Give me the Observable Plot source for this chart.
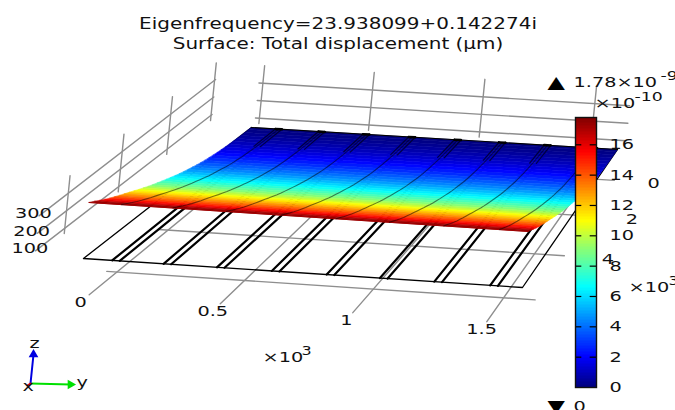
<!DOCTYPE html>
<html>
<head>
<meta charset="utf-8">
<style>
html,body{margin:0;padding:0;background:#fff;width:675px;height:410px;overflow:hidden}
#wrap{position:relative;width:675px;height:410px;overflow:hidden}
#wrap svg{position:absolute;overflow:hidden}
.surface{filter:blur(.6px)}
</style>
<script src="https://cdn.jsdelivr.net/npm/d3@7"></script>
<script src="https://cdn.jsdelivr.net/npm/@observablehq/plot@0.6"></script>
</head>
<body>
<div id="wrap"></div>
<script>
// ---- values ----
const titleLines = ["Eigenfrequency=23.938099+0.142274i", "Surface: Total displacement (µm)"];
const yTicks = [0, 500, 1000, 1500];
const yTickLabels = ["0", "0.5", "1", "1.5"];
const depthTicks = [0, 2, 4, 6];
const depthTickLabels = [0, 2, 4];
const zTicks = [100, 200, 300];
const barTicks = [0, 2, 4, 6, 8, 10, 12, 14, 16];
const railCentres = [-55, 150, 362, 579, 795, 1004, 1216, 1433];
// depth station (µm×10³), surface height above floor, displacement (×10⁻¹⁰)
const stationDepth = [5.52,5.3,5.1,4.9,4.7,4.5,4.3,4.1,3.9,3.7,3.5,3.3,3.1,2.9,2.7,2.5,2.3,2.1,1.9,1.7,1.5,1.3,1.1,.9,.7,.5,.3,.1,-.1,-.3,-.5,-.7,-.9,-1.1,-1.3,-1.5,-1.7,-1.84];
const stationHeight = [320,300,281,263,246,231,216,202,188,174,160,147,134,122,111,100,90,80,70,61,53,46,39,32,26,21,17,13,10,7.4,4.8,3,1.9,1.1,.7,.4,0,0];
const stationValue = [17.8,16.9,16.1,15.4,14.6,13.9,13.2,12.5,11.8,11.2,10.5,9.9,9.3,8.7,8.2,7.6,7.1,6.5,6.1,5.6,5.1,4.6,4.2,3.8,3.4,3.0,2.6,2.3,1.9,1.6,1.3,1.05,.8,.57,.36,.2,.05,0];
const colorStops = [0, 2, 6.6, 8.9, 11, 15.5, 17.8];
const colorRamp = ["#00007f","#0000ff","#00ffff","#7fff7f","#ffff00","#ff0000","#7f0000"];

// ---- camera: floor extents and where the floor's corners land in the window ----
const floorY = [-185, 1543], floorDepth = [5.52, -1.84];
const cam = {nl:[83,258], nr:[522,287], fr:[617,149], fl:[251,127], zScale:.175, zTilt:.1};
const zOffset = 129;              // axis value 0 relative to floor level
const wallY = -222, backDepth = 0;
const gridYRange = [-40, 1620], backYRange = [-18, 1655], wallDepthRange = [-.05, 7], tickDepthRange = [0, 7];
const wallZRange = [70, 400];

const [x0,y0]=cam.nl,[x1,y1]=cam.nr,[x2,y2]=cam.fr,[x3,y3]=cam.fl;
const dx1=x1-x2,dx2=x3-x2,sx=x0-x1+x2-x3,dy1=y1-y2,dy2=y3-y2,sy=y0-y1+y2-y3;
const den=dx1*dy2-dx2*dy1,g=(sx*dy2-dx2*sy)/den,h=(dx1*sy-sx*dy1)/den;
const A=x1-x0+g*x1,B=x3-x0+h*x3,C=x0,D=y1-y0+g*y1,E=y3-y0+h*y3,F=y0;
function project(yv,depth,z=0){
  const s=(yv-floorY[0])/(floorY[1]-floorY[0]), t=(depth-floorDepth[0])/(floorDepth[1]-floorDepth[0]);
  const w=g*s+h*t+1;
  return {px:(A*s+B*t+C)/w+cam.zTilt*cam.zScale*z, py:(D*s+E*t+F)/w-cam.zScale*z};
}
let uid=0;
const path=pts=>{const id=uid++;return pts.map(p=>({id,...project(...p)}));};

// ---- derived geometry ----
const strips=[];
for(let i=stationDepth.length-2;i>=0;i--){
  const v=(stationValue[i]+stationValue[i+1])/2;
  path([[floorY[0],stationDepth[i],stationHeight[i]],[floorY[1],stationDepth[i],stationHeight[i]],
        [floorY[1],stationDepth[i+1],stationHeight[i+1]],[floorY[0],stationDepth[i+1],stationHeight[i+1]]])
    .forEach(p=>strips.push({...p,value:v}));
}
const gridLines=[
  ...depthTicks.flatMap(b=>path([[gridYRange[0],b],[gridYRange[1],b]])),
  ...yTicks.flatMap(v=>path([[v,tickDepthRange[0]],[v,tickDepthRange[1]]])),
  ...zTicks.flatMap(z=>path([[wallY,wallDepthRange[0],z+zOffset],[wallY,wallDepthRange[1],z+zOffset]])),
  ...zTicks.flatMap(z=>path([[backYRange[0],backDepth,z+zOffset],[backYRange[1],backDepth,z+zOffset]])),
  ...depthTicks.flatMap(b=>path([[wallY,b,wallZRange[0]+zOffset],[wallY,b,wallZRange[1]+zOffset]])),
  ...yTicks.flatMap(v=>path([[v,backDepth,wallZRange[0]+zOffset],[v,backDepth,wallZRange[1]+zOffset]]))
];
const floorOutline=path([[floorY[0],floorDepth[1]],[floorY[0],floorDepth[0]],[floorY[1],floorDepth[0]],[floorY[1],floorDepth[1]]]);
const railHalf=15;
const railLines=railCentres.flatMap(c=>[-1,1].flatMap(k=>path([[c+k*railHalf,floorDepth[0]],[c+k*railHalf,floorDepth[1]]])));
const railCurves=railCentres.flatMap(c=>path(stationDepth.map((b,i)=>[c,b,stationHeight[i]])));
const railFarEnds=railCentres.flatMap(c=>[-1,1].flatMap(k=>path([[c+k*railHalf,-.7],[c+k*railHalf,-1.84]])));
const railBlobs=railCentres.flatMap(c=>path([[c-railHalf,-1.84],[c+railHalf,-1.84]]));
const farEdge=path([[floorY[0],floorDepth[1]],[floorY[1],floorDepth[1]]]);
const nearEdge=path([[floorY[0],floorDepth[0],stationHeight[0]],[floorY[1],floorDepth[0],stationHeight[0]]]);
const yLabelRows=yTicks.map((v,i)=>({...project(v,7.3),t:yTickLabels[i]}));
const depthLabelRows=depthTickLabels.map(b=>({...project(1795,b),t:String(b)}));
const zLabelRows=zTicks.map(z=>({...project(wallY,7.15,z+zOffset),t:String(z)}));

const FONT="'DejaVu Sans'", FS=14.5;
const colorScale={type:"linear",domain:colorStops,range:colorRamp,interpolate:"rgb",clamp:true};
const ann=(text,dx,dy,fontSize=FS,fill="#111")=>Plot.text([text],{text:d=>d,frameAnchor:"top-left",dx,dy,fontSize,textAnchor:"start",lineAnchor:"middle",fill});
const lineOpts={x:"px",y:"py",z:"id"};

// triad arrows (window offsets from the triad origin are layout)
const triad=[{axis:"y",c:"#00e000",to:[70,384]},{axis:"z",c:"#0000e0",to:[33,354]},{axis:"x",c:"#e00000",to:[27,385]}];
const triadRows=triad.flatMap(a=>[{id:a.axis,px:30,py:383,c:a.c},{id:a.axis,px:a.to[0],py:a.to[1],c:a.c}]);

const main=Plot.plot({
  width:675,height:410,margin:0,
  x:{domain:[0,675],range:[0,675],axis:null},
  y:{domain:[0,410],range:[0,410],axis:null},
  color:colorScale,
  style:{fontFamily:FONT,background:"#fff"},
  marks:[
    Plot.line(gridLines,{...lineOpts,stroke:"#8e8e8e",strokeWidth:1.4}),
    Plot.line(floorOutline,{...lineOpts,stroke:"#000",strokeWidth:1.3}),
    Plot.line(railLines,{...lineOpts,stroke:"#000",strokeWidth:2.2}),
    Plot.line(strips,{x:"px",y:"py",z:"id",fill:"value",stroke:"value",strokeWidth:.6,curve:"linear-closed",className:"surface"}),
    Plot.line(nearEdge,{...lineOpts,stroke:"#a00000",strokeWidth:1}),
    Plot.line(railCurves,{...lineOpts,stroke:"#000",strokeOpacity:.5,strokeWidth:1.1}),
    Plot.line(railFarEnds,{...lineOpts,stroke:"#000",strokeOpacity:.65,strokeWidth:1.1}),
    Plot.line(farEdge,{...lineOpts,stroke:"#000",strokeWidth:1.1}),
    Plot.line(railBlobs,{...lineOpts,stroke:"#000",strokeWidth:2.5}),
    Plot.text(yLabelRows,{x:"px",y:"py",text:"t",fontSize:FS,fill:"#111"}),
    Plot.text(depthLabelRows,{x:"px",y:"py",text:"t",dy:1,fontSize:FS,fill:"#111"}),
    Plot.text(zLabelRows,{x:"px",y:"py",text:"t",dx:-1,dy:-6,fontSize:FS,fill:"#111"}),
    Plot.text([titleLines[0]],{text:d=>d,frameAnchor:"top",dy:24,lineAnchor:"middle",fontSize:15,fill:"#111"}),
    Plot.text([titleLines[1]],{text:d=>d,frameAnchor:"top",dy:44,lineAnchor:"middle",fontSize:15,fill:"#111"}),
    ann("×10",262,357),ann("3",301,351,12),
    ann("×10",628,287),ann("3",668,281,12),
    ann("▲",547,82,17,"#000"),ann("1.78×10",573,82),ann("-9",660,75,13),
    ann("×10",594,103),ann("-10",634,96,13),
    ann("▼",547,406,17,"#000"),ann("0",573,406),
    Plot.line(triadRows,{x:"px",y:"py",z:"id",stroke:"c",strokeWidth:2}),
    Plot.dot(triad.filter(a=>a.axis!=="x"),{x:a=>a.to[0],y:a=>a.to[1],fill:"c",symbol:"triangle",r:3.6,rotate:a=>a.axis==="y"?90:0}),
    ann("z",29,343),ann("y",76,382),ann("x",22,386)
  ]
});
main.style.left="0";main.style.top="0";

// colour bar
const barBands=d3.range(0,17.8,.1);
const bar=Plot.plot({
  width:102,height:293,marginLeft:2,marginRight:79,marginTop:10,marginBottom:13,
  x:{domain:[0,1],axis:null},
  y:{domain:[0,17.8]},
  color:colorScale,
  style:{fontFamily:FONT,background:"transparent"},
  marks:[
    Plot.rect(barBands,{x1:0,x2:1,y1:d=>d,y2:d=>Math.min(d+.11,17.8),fill:d=>d+.05,shapeRendering:"crispEdges"}),
    Plot.ruleY(barTicks.slice(1),{x1:0,x2:.3,stroke:"#000",strokeWidth:1.2}),
    Plot.ruleY(barTicks.slice(1),{x1:.7,x2:1,stroke:"#000",strokeWidth:1.2}),
    Plot.frame({stroke:"#111",strokeWidth:1.4}),
    Plot.axisY(barTicks,{anchor:"right",tickSize:0,tickPadding:13,fontSize:FS,label:null,fill:"#111"})
  ]
});
bar.style.left="573px";bar.style.top="107px";
const wrap=document.getElementById("wrap");
wrap.append(main,bar);

// the reference's lettering is stretched horizontally
wrap.querySelectorAll("text").forEach(t=>{
  const len=t.getComputedTextLength();
  if(len>0){t.setAttribute("textLength",len*1.33);t.setAttribute("lengthAdjust","spacingAndGlyphs");}
});
</script>
</body>
</html>
